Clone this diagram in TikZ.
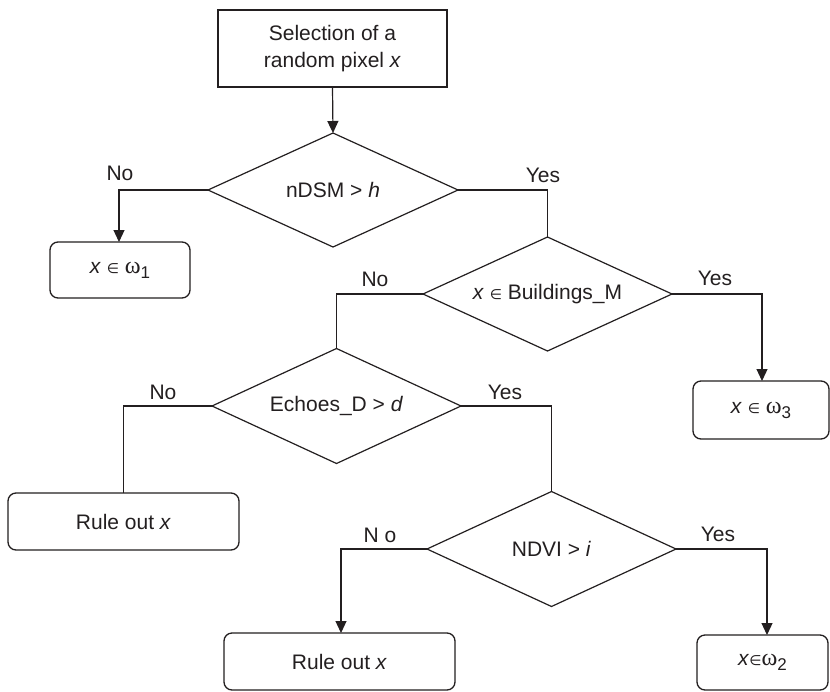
\documentclass[tikz,border=0pt]{standalone}
\usepackage{fontspec}
\setmainfont{Liberation Sans}
\newfontfamily\symfont{DejaVu Sans}
\newfontfamily\grkfont{Liberation Serif}
\usetikzlibrary{shapes.geometric,arrows.meta}
\definecolor{ink}{RGB}{35,31,32}
\newcommand{\elt}{{\symfont\fontsize{14}{14}\selectfont ∈}}
\newcommand{\om}[1]{{\grkfont\fontsize{24}{24}\selectfont ω}\raisebox{-5pt}{\fontsize{17}{17}\selectfont #1}}
\tikzset{
  every node/.style={font=\fontsize{21}{27}\selectfont, text=ink},
  box/.style={draw=ink, line width=1.3pt, inner sep=0pt, outer sep=0pt, align=center},
  rbox/.style={box, rounded corners=8pt},
  dec/.style={draw=ink, line width=1.2pt, shape=diamond, inner sep=0pt, outer sep=0pt, shape aspect=2.17},
  link/.style={draw=ink, line width=1.2pt},
  arr/.style={link, -{Triangle[length=12pt,width=11pt]}},
  lab/.style={inner sep=0pt}
}
\begin{document}
\begin{tikzpicture}[x=1pt,y=-1pt]
\useasboundingbox[fill=white] (0,0) rectangle (830,691);
% boxes
\node[box, minimum width=229pt, minimum height=77pt] (start) at (332.5,48.5) {Selection of a\\random pixel \textit{x}};
\node[rbox, minimum width=140pt, minimum height=56pt] (b1) at (120,270) {\textit{x} \elt\ \om{1}};
\node[rbox, minimum width=136pt, minimum height=58pt] (b3) at (761,410) {\textit{x} \elt\ \om{3}};
\node[rbox, minimum width=231pt, minimum height=57pt] (r1) at (123.5,521.5) {Rule out \textit{x}};
\node[rbox, minimum width=231pt, minimum height=57pt] (r2) at (339.5,661.5) {Rule out \textit{x}};
\node[rbox, minimum width=131pt, minimum height=55pt] (b2) at (762.5,662.5) {\textit{x}\elt\om{2}};
% decisions
\node[dec, minimum width=250pt, minimum height=114pt] (d1) at (333,190) {nDSM > \textit{h}};
\node[dec, minimum width=249pt, minimum height=114pt] (d2) at (547.5,294) {\textit{x} \elt\ Buildings\_M};
\node[dec, minimum width=249pt, minimum height=115pt] (d3) at (336.5,406) {Echoes\_D > \textit{d}};
\node[dec, minimum width=249pt, minimum height=115pt] (d4) at (551.5,549) {NDVI > \textit{i}};
% connectors
\draw[arr] (start.south) -- (d1.north);
\draw[arr] (d1.west) -| ([xshift=-1pt]b1.north);
\draw[link] (d1.east) -| (d2.north);
\draw[link] (d2.west) -| (d3.north);
\draw[arr] (d2.east) -| ([xshift=1pt]b3.north);
\draw[link] (d3.west) -| (r1.north);
\draw[link] (d3.east) -| (d4.north);
\draw[arr] (d4.west) -| ([xshift=1.5pt]r2.north);
\draw[arr] (d4.east) -| ([xshift=4.5pt]b2.north);
% labels
\node[lab] (l1) at (120,173) {No};
\node[lab] (l2) at (543,175) {Yes};
\node[lab] (l3) at (375,279) {No};
\node[lab] (l4) at (715,278) {Yes};
\node[lab] (l5) at (163,392) {No};
\node[lab] (l6) at (505,392) {Yes};
\node[lab] (l7) at (380,535) {N o};
\node[lab] (l8) at (718,534) {Yes};
\end{tikzpicture}
\end{document}
